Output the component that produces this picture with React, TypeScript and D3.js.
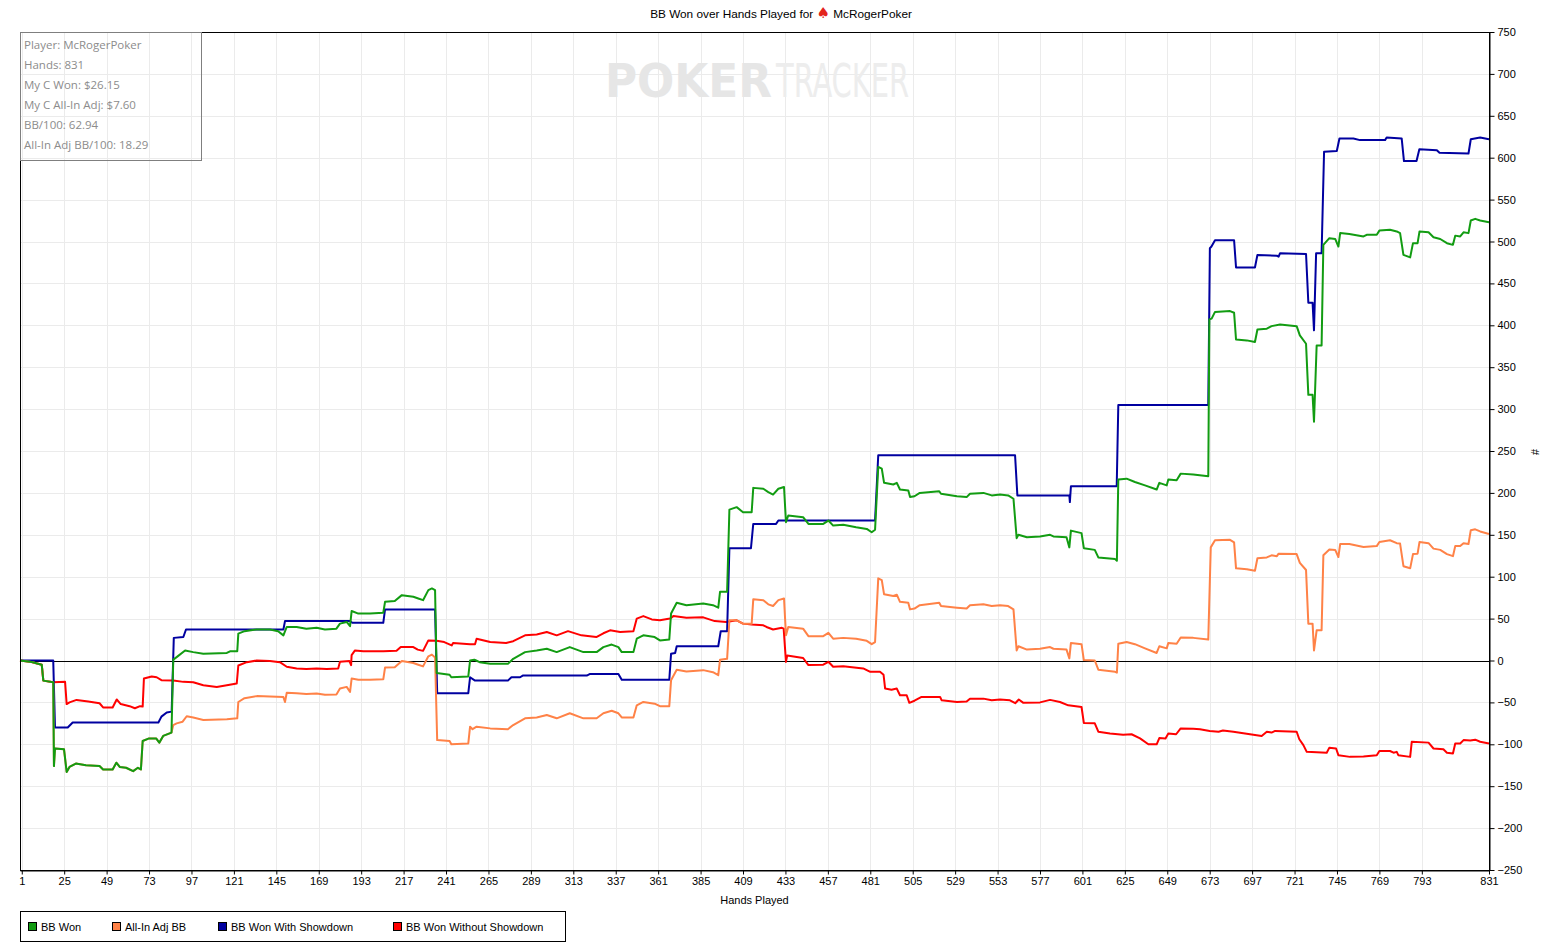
import { useEffect, useRef } from "react";
import * as d3 from "d3";

// [hand, BB] pairs
const bbWon = [
  [0, 0], [6.6, -1.7], [12.3, -5], [13.2, -24], [18.8, -26], [19.2, -126], [19.8, -105], [24.9, -106],
  [26.4, -133], [28, -127], [31.6, -123], [37.3, -125], [45, -126], [47, -130], [52.4, -130], [54.5, -122],
  [56.4, -127], [60, -128], [64, -132], [66.7, -128], [68.4, -130], [69.4, -96], [73, -93], [77, -93],
  [78.8, -98], [81, -90], [85.7, -86], [86.7, 1], [88.6, 4], [93.4, 12], [98, 10], [103.7, 8], [117, 9],
  [118.8, 11], [122.9, 11], [123.5, 32], [127, 35], [133.9, 37], [141.4, 37], [146, 35], [149, 30],
  [150.9, 40], [156.5, 40], [162, 38], [167.8, 39], [172.5, 37], [179, 38], [181, 44], [184.8, 46],
  [186.7, 41], [187.6, 59], [191.4, 56], [198, 56], [205.5, 57], [206.5, 70], [212, 71], [216, 78],
  [222.5, 76], [225.3, 74], [228, 72], [231, 84], [233, 86], [234.8, 84], [235.7, -15], [243, -17],
  [244, -20], [253.6, -19], [254.6, 0], [257, 1], [258, 0], [260, -2], [266, -4], [276, -4], [279, 2],
  [285.7, 10], [292.3, 12], [298, 14], [303.6, 10], [311, 16], [318.7, 10], [326.2, 10], [330, 16],
  [334.7, 19], [338.5, 16], [340.4, 10], [347, 10], [348.9, 26], [352.6, 30], [359, 28], [362, 24],
  [367.3, 25], [368.3, 56], [371.5, 69], [377, 66], [386.5, 68], [392, 66], [395, 63], [396, 82], [400, 82],
  [401.3, 180], [405.4, 183], [409, 177], [413.9, 177], [414.8, 206], [420.5, 205], [423.3, 201], [426, 198],
  [429, 205], [432.2, 207], [433.3, 165], [434.6, 173], [443, 171], [446, 163], [454.4, 163], [457.3, 167],
  [460, 161], [465.7, 162], [473, 159], [479, 157], [481.8, 153], [483.7, 156], [485.5, 231], [487.5, 229],
  [488.8, 212], [494, 210], [496, 212], [497.8, 204], [502.5, 203], [503.5, 195], [506, 196], [509, 200],
  [520, 202], [521, 199], [530, 196], [535.5, 195], [537.4, 199], [545, 200], [549.7, 197], [554.4, 198],
  [559, 197], [562, 193], [563.8, 146], [564.8, 150], [569.6, 147], [577, 148], [582.7, 150], [584.6, 148],
  [592, 147], [593.6, 135], [594.5, 155], [600.5, 152], [601.8, 134], [608, 132], [610, 123], [619.5, 121],
  [620.5, 119], [621.3, 216], [626, 217], [630.7, 213], [636.4, 209], [643, 204], [644.5, 212], [648.7, 209],
  [649.6, 216], [654.3, 215], [656.6, 223], [663.7, 222], [672.2, 220], [672.8, 407], [674.1, 408],
  [676, 416], [684.5, 417], [686.8, 415], [687.9, 383], [694, 382], [698.6, 380], [700, 395], [705.3, 396],
  [708, 399], [712.8, 401], [722.2, 399], [724, 388], [727.5, 378], [728.8, 317], [731.2, 317], [732, 285],
  [733.5, 376], [736.3, 376], [737.3, 496], [740.7, 504], [744, 503], [745.8, 494], [746.8, 510], [752, 509],
  [760, 506], [761.8, 508], [767.5, 508], [769, 513], [775, 514], [778.8, 512], [780.7, 510], [782.6, 484],
  [786.4, 481], [788, 498], [790.6, 498], [791.7, 512], [796.8, 511], [799.6, 505], [803.4, 503],
  [807.2, 498], [810.6, 496], [811.9, 507], [814.7, 506], [816.6, 511], [819.4, 510], [820.7, 525],
  [823.2, 527], [826, 525], [831, 523],
];

const allInAdj = [
  [0, 0], [6.6, -1.7], [12.3, -5], [13.2, -24], [18.8, -26], [19.2, -126], [19.8, -105], [24.9, -106],
  [26.4, -133], [28, -127], [31.6, -123], [37.3, -125], [45, -126], [47, -130], [52.4, -130], [54.5, -122],
  [56.4, -127], [60, -128], [64, -132], [66.7, -128], [68.4, -130], [69.4, -96], [73, -93], [77, -93],
  [78.8, -98], [81, -90], [85.7, -86], [86.7, -77], [88.6, -75], [92, -73], [94.3, -66.5], [98, -68],
  [103.7, -71], [117, -70], [122.9, -69], [123.5, -49.5], [127, -45], [134, -42.5], [141.4, -43],
  [149, -43.5], [149.9, -49.5], [150.9, -38.5], [156.5, -39], [162, -40], [167.8, -39.5], [172.5, -41],
  [179, -40.5], [181, -33.5], [184.8, -31.5], [186.7, -37.5], [187.6, -21.5], [191.4, -23], [198, -23],
  [205.5, -22.5], [206.5, -8.5], [212, -8], [216, -0.5], [222.5, -3], [225.3, -5], [228, -7], [231, 5],
  [233, 7], [234.8, 3.5], [236, -95], [243, -96], [244, -100], [253.6, -99], [254.6, -79], [256, -82],
  [258.3, -79], [266, -81], [276, -82], [279, -77], [285.7, -69], [292.3, -68], [298, -65], [303.6, -69],
  [311, -63], [318.7, -69], [326.2, -69], [330, -63], [334.7, -60], [338.5, -63], [340.4, -68], [347, -68],
  [348.9, -53.5], [352.6, -49.5], [359, -51.5], [362, -54.5], [367.3, -54.5], [368.3, -23.5], [371.5, -11],
  [377, -13], [386.5, -11.5], [392, -14], [395, -17.5], [396, 1], [400, 2], [401.3, 48], [405.4, 48],
  [409, 44], [413.9, 44], [414.8, 73], [420.5, 72], [423.3, 67], [426, 65], [429, 72], [432.2, 74],
  [433.3, 30], [434.6, 40], [443, 38], [446, 29], [454.4, 29], [457.3, 33], [460, 26], [465.7, 27],
  [473, 26], [479, 23.5], [481.8, 19.5], [483.7, 22], [485.5, 98], [487.5, 96], [488.8, 79], [494, 77],
  [496, 78.5], [497.8, 70], [502.5, 69], [503.5, 61], [506, 62], [509, 66], [520, 69], [521, 65], [530, 63],
  [535.5, 62], [537.4, 66], [545, 67], [549.7, 65], [554.4, 66], [559, 65], [562, 61], [563.8, 12],
  [564.8, 17], [569.6, 13], [577, 14], [582.7, 16], [584.6, 14], [592, 13], [593.6, 2.5], [594.5, 21],
  [600.5, 19.5], [601.8, 0.5], [608, 0], [610, -11], [619.5, -13.5], [620.5, -14.5], [621.3, 20], [626, 22],
  [630.7, 19.5], [636.4, 14.5], [643, 9], [644.5, 17], [648.7, 14.5], [649.6, 21], [654.3, 20],
  [656.6, 27.5], [663.7, 27], [672.2, 25], [673.6, 135], [676, 143.5], [684.5, 144], [686.8, 141],
  [687.9, 110], [694, 109], [698.6, 107], [700, 122], [705.3, 123], [708, 125.5], [711, 124.5],
  [712, 127.5], [722.2, 127], [724, 116.5], [727.5, 108], [728.8, 44], [731.2, 44], [732, 12], [733.5, 36],
  [736.3, 36], [737.3, 125.5], [740.7, 132.5], [744, 132], [745.8, 123.5], [746.8, 139], [752, 139],
  [760, 135.5], [767.5, 136.5], [769, 141.5], [775, 143.5], [778.8, 140], [780.7, 139.5], [782.6, 112.5],
  [786.4, 110], [788, 127], [790.6, 127.5], [791.7, 141.5], [796.8, 140], [799.6, 133.5], [803.4, 132],
  [807.2, 127], [810.6, 124.5], [811.9, 136.5], [814.7, 136.5], [816.6, 140], [819.4, 139], [820.7, 155.5],
  [823.2, 156.5], [826, 154], [831, 151],
];

const withShowdown = [
  [0, 0], [18.8, 0], [19.8, -80], [27, -80], [29.8, -74], [78.3, -74], [80, -67], [83, -62], [85.8, -61],
  [87, 27], [92.4, 28], [93.9, 37], [149, 37], [149.9, 47], [186.7, 47], [188, 45], [205.5, 45],
  [206.5, 61], [234.8, 61], [236, -39], [253.6, -39], [254.6, -20], [257.4, -24], [276, -24], [278, -20],
  [282.9, -20], [284.4, -18], [320.6, -18], [322.5, -16], [338.5, -16], [340.4, -23], [367.3, -23],
  [368.3, 8], [370.6, 9], [371.5, 17], [395, 17], [396.4, 35], [400, 35], [401.3, 134], [413.5, 134],
  [414.8, 163], [427.7, 163], [429, 167], [483.7, 167], [485.5, 245], [562.9, 245], [564.2, 197],
  [593.6, 197], [593.9, 189], [594.5, 208], [620.4, 208], [621.3, 305], [672.2, 305], [673.1, 492],
  [674, 494], [676, 501.5], [686.8, 501.5], [687.9, 469], [698.6, 469], [700, 484], [711, 483], [712, 482],
  [712.8, 486], [727.5, 485], [728.8, 427], [731.2, 427], [732, 394], [733.2, 486], [736.3, 486],
  [737.7, 607], [744.9, 608], [746.4, 623], [754.3, 623], [758, 621], [772.2, 621], [773.1, 624],
  [781.6, 623], [782.9, 596], [790, 596], [791.6, 610], [801.5, 609], [803, 606], [819.4, 605],
  [820.7, 622], [826, 624], [831, 622],
];

const withoutShowdown = [
  [0, 0], [6.6, -1.7], [12.3, -5], [13.2, -24], [18.8, -26], [25.5, -25.5], [26.4, -52], [28, -50],
  [32, -47], [38.6, -49], [45, -51], [47, -56], [52.4, -56], [54.7, -46.5], [57, -52], [62, -54.5],
  [65, -57], [67.9, -54.5], [69.4, -55], [70.1, -21.5], [74.5, -19], [77.3, -20], [80, -23.5], [86.7, -24],
  [92.4, -25.5], [98, -26], [103.7, -29.5], [111.3, -31.5], [117, -29.5], [122.6, -27.5], [123.5, -6],
  [128.3, -2], [133.9, 0], [141.4, -0.5], [147, -2], [150.9, -7.5], [156.5, -9.5], [162, -10],
  [167.8, -9.5], [173.5, -10], [180, -9.5], [181, -1.5], [186.3, -0.5], [187.3, -5.5], [187.6, 6.5],
  [189.5, 12], [194.2, 11], [205.5, 11], [213, 11.5], [215.4, 16], [222.5, 16], [225, 13], [228, 11.5],
  [231, 24], [235.7, 23.5], [240, 22], [244.2, 18], [245, 21], [254.6, 19.5], [257.4, 19.5], [258.3, 26],
  [266, 22], [275, 21], [279, 23], [285.7, 30], [292.3, 31], [298, 34], [303.6, 30], [310, 35],
  [317.6, 30], [326, 28], [330, 32.5], [333.8, 36], [339.5, 34], [347, 35], [348.9, 50], [352.6, 53],
  [357.4, 49], [362, 48], [367.7, 50], [369.6, 53], [377, 51], [386.5, 51.5], [393, 47], [399.5, 46],
  [405.4, 48], [409, 44], [413.9, 43], [420.5, 42], [422.3, 40], [426, 37], [431, 39], [432, 38],
  [433.3, -1.7], [434, 6], [443, 3], [446, -5.5], [454.4, -5], [457.3, -1.5], [460, -7.5], [465.7, -7],
  [477, -9.5], [481, -13.5], [486.5, -13.5], [488.5, -17], [489.4, -33.5], [493, -35], [496, -33.5],
  [497.8, -41.5], [501.6, -41.5], [503.1, -50.5], [506, -48], [510, -43.5], [520.5, -43.5], [521.4, -47.5],
  [530, -49.5], [535.5, -49], [537.4, -45.5], [545, -45.5], [549.7, -47.5], [554.4, -46.5], [560, -47.5],
  [563, -51], [565, -46.5], [567.6, -50.5], [577, -50], [582.7, -47], [588.3, -49.5], [593, -53.5],
  [600.5, -55.5], [601.8, -74.5], [608, -75], [610, -85], [616.6, -87], [624, -88.5], [628.8, -88],
  [633.6, -93], [638.3, -100], [643, -100], [644.5, -92.5], [648, -93], [649.6, -87], [654, -88],
  [656.6, -81], [663.7, -81.5], [667.5, -82], [673, -84], [678, -85], [680.5, -83.5], [686.4, -85],
  [695.8, -88], [702.4, -90], [705.3, -85], [708, -86], [710, -84], [722.2, -85], [723.7, -94], [726, -101],
  [727.9, -109], [739.2, -110], [740.7, -104], [744.5, -105], [745.8, -113], [752.4, -115], [760, -114.5],
  [767.5, -113], [769, -108], [775, -108], [777, -110], [778.8, -109], [779.7, -113], [786.4, -115],
  [787.3, -97], [796.8, -98], [799.6, -105], [805.2, -106], [807.2, -110], [810.6, -111], [811.9, -99],
  [814.7, -99], [816.6, -95], [820.4, -95.5], [823.2, -94.5], [826, -97], [831, -99],
];

const xTicks = [1, 25, 49, 73, 97, 121, 145, 169, 193, 217, 241, 265, 289, 313, 337, 361, 385, 409, 433, 457,
  481, 505, 529, 553, 577, 601, 625, 649, 673, 697, 721, 745, 769, 793, 831];
const yTicks = [-250, -200, -150, -100, -50, 0, 50, 100, 150, 200, 250, 300, 350, 400, 450, 500, 550, 600,
  650, 700, 750];

const infoLines = [
  "Player: McRogerPoker",
  "Hands: 831",
  "My C Won: $26.15",
  "My C All-In Adj: $7.60",
  "BB/100: 62.94",
  "All-In Adj BB/100: 18.29",
];

const seriesNames = ["BB Won", "All-In Adj BB", "BB Won With Showdown", "BB Won Without Showdown"];
const seriesColors = ["#129c12", "#ff8247", "#0000a0", "#ff0000"];
const seriesData = [bbWon, allInAdj, withShowdown, withoutShowdown];

const W = 1561;
const H = 951;
const FONT = "'Liberation Sans', Arial, sans-serif";

const App = () => {
  const ref = useRef(null);

  useEffect(() => {
    document.body.style.margin = "0";
    const svg = d3.select(ref.current);
    svg.selectAll("*").remove();

    const left = 20, right = 1489, top = 32, bottom = 870;
    const x = d3.scaleLinear().domain([0, 831]).range([left, right]);
    const y = d3.scaleLinear().domain([-250, 750]).range([bottom, top]);

    svg.append("rect").attr("width", W).attr("height", H).attr("fill", "#fff");

    // grid
    const grid = svg.append("g").attr("stroke", "#ebebeb").attr("stroke-width", 1);
    yTicks.forEach((t) => {
      grid.append("line").attr("x1", left).attr("x2", right)
        .attr("y1", Math.round(y(t)) + 0.5).attr("y2", Math.round(y(t)) + 0.5);
    });
    xTicks.forEach((t) => {
      grid.append("line").attr("y1", top).attr("y2", bottom)
        .attr("x1", Math.round(x(t)) + 0.5).attr("x2", Math.round(x(t)) + 0.5);
    });

    // watermark
    const wm = svg.append("g").attr("font-family", "'DejaVu Sans Condensed', 'Liberation Sans Narrow', sans-serif");
    wm.append("text").attr("x", 605).attr("y", 97).attr("font-size", 46).attr("font-weight", "bold")
      .attr("fill", "#e6e6e6").attr("textLength", 167).attr("lengthAdjust", "spacingAndGlyphs").text("POKER");
    wm.append("text").attr("x", 776).attr("y", 97).attr("font-size", 46)
      .attr("fill", "#ededed").attr("textLength", 133).attr("lengthAdjust", "spacingAndGlyphs").text("TRACKER");

    // zero line
    svg.append("line").attr("x1", left).attr("x2", right)
      .attr("y1", Math.round(y(0)) + 0.5).attr("y2", Math.round(y(0)) + 0.5)
      .attr("stroke", "#000").attr("stroke-width", 1);

    // series, last drawn on top
    const line = d3.line().x((d) => x(d[0])).y((d) => y(d[1]));
    [3, 2, 1, 0].forEach((i) => {
      svg.append("path")
        .datum(seriesData[i])
        .attr("d", line)
        .attr("fill", "none")
        .attr("stroke", seriesColors[i])
        .attr("stroke-width", 2)
        .attr("stroke-linejoin", "round");
    });

    // frame
    svg.append("rect").attr("x", left + 0.5).attr("y", top + 0.5)
      .attr("width", right - left).attr("height", bottom - top)
      .attr("fill", "none").attr("stroke", "#000");

    // axes
    const yAxis = svg.append("g").attr("transform", `translate(${right + 0.5},0)`)
      .call(d3.axisRight(y).tickValues(yTicks).tickSize(5).tickSizeOuter(0));
    const xAxis = svg.append("g").attr("transform", `translate(0,${bottom + 0.5})`)
      .call(d3.axisBottom(x).tickValues(xTicks).tickSize(4).tickSizeOuter(0));
    [yAxis, xAxis].forEach((a) => {
      a.attr("font-family", FONT).attr("font-size", 11);
      a.selectAll("text").attr("fill", "#000");
      a.selectAll("line").attr("stroke", "#000");
      a.select(".domain").attr("stroke", "#000");
    });

    svg.append("text").attr("x", (left + right) / 2).attr("y", 904)
      .attr("text-anchor", "middle").attr("font-family", FONT).attr("font-size", 11)
      .text("Hands Played");
    svg.append("text").attr("transform", "translate(1531,452) rotate(90)")
      .attr("text-anchor", "middle").attr("font-family", FONT).attr("font-size", 11)
      .text("#");

    // title
    const title = svg.append("text").attr("x", 781).attr("y", 18).attr("text-anchor", "middle")
      .attr("font-family", FONT).attr("font-size", 11.8);
    title.append("tspan").text("BB Won over Hands Played for ");
    title.append("tspan").attr("fill", "#e3241c").attr("font-size", 15)
      .attr("font-family", "'DejaVu Sans', sans-serif").text("♠");
    title.append("tspan").text(" McRogerPoker");

    // info box
    svg.append("rect").attr("x", left + 0.5).attr("y", top + 0.5).attr("width", 181).attr("height", 128)
      .attr("fill", "none").attr("stroke", "#7f7f7f");
    infoLines.forEach((t, i) => {
      svg.append("text").attr("x", 24).attr("y", 49 + i * 20)
        .attr("font-family", "'Open Sans', 'Noto Sans', sans-serif").attr("font-size", 11.5)
        .attr("fill", "#8c8c8c").text(t);
    });

    // legend
    const legend = svg.append("g");
    legend.append("rect").attr("x", 20.5).attr("y", 911.5).attr("width", 545).attr("height", 30)
      .attr("fill", "#fff").attr("stroke", "#000");
    const legendX = [28, 112, 218, 393];
    seriesNames.forEach((n, i) => {
      legend.append("rect").attr("x", legendX[i] + 0.5).attr("y", 922.5).attr("width", 8).attr("height", 8)
        .attr("fill", seriesColors[i]).attr("stroke", "#000");
      legend.append("text").attr("x", legendX[i] + 13).attr("y", 931)
        .attr("font-family", FONT).attr("font-size", 11).text(n);
    });
  }, []);

  return <svg ref={ref} width={W} height={H} style={{ display: "block" }}></svg>;
};

export default App;
